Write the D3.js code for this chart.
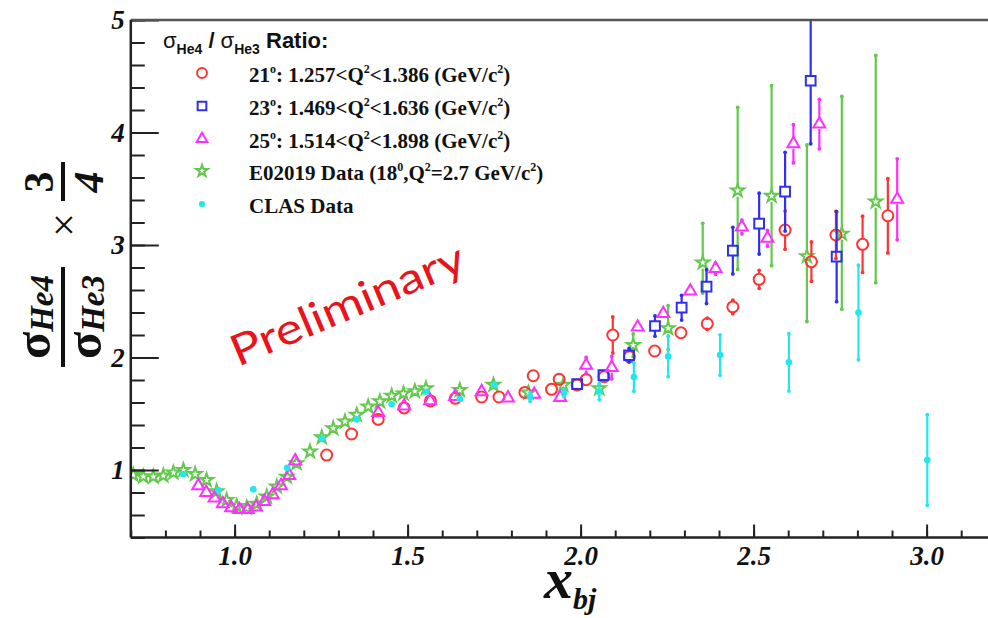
<!DOCTYPE html>
<html>
<head>
<meta charset="utf-8">
<script src="https://cdn.jsdelivr.net/npm/d3@7"></script>
<style>
body{margin:0;background:#fff;}
svg{display:block;}
</style>
</head>
<body>
<script>
//E02019 data (green stars), asymmetric errors
var greenX = [0.707,0.736,0.765,0.794,0.823,0.852,0.886,0.919,0.948,0.977,1.006,1.035,1.064,1.093,1.122,1.151,1.179,1.218,1.252,1.285,1.319,1.353,1.386,1.42,1.454,1.488,1.521,1.553,1.651,1.748,1.849,1.95,2.054,2.152,2.253,2.353,2.454,2.552,2.654,2.755,2.853];
var greenY = [0.956,0.941,0.941,0.95,0.976,1.0,0.964,0.91,0.81,0.733,0.68,0.665,0.698,0.763,0.852,0.94,1.06,1.163,1.29,1.37,1.43,1.49,1.563,1.61,1.66,1.68,1.70,1.726,1.71,1.756,1.687,1.756,1.726,2.11,2.26,2.843,3.483,3.436,2.90,3.10,3.385];
var greenErrUp   = [0,0,0,0,0,0,0,0,0,0,0,0,0,0,0,0,0,0,0,0,0,0,0,0,0,0,0,0,0,0,0,0,0.05,0.1,0.2,0.35,0.74,0.98,0.99,1.22,1.30];
var greenErrDown = [0,0,0,0,0,0,0,0,0,0,0,0,0,0,0,0,0,0,0,0,0,0,0,0,0,0,0,0,0,0,0,0,0.05,0.1,0.19,0.27,0.70,0.62,0.58,0.67,0.72];

//21 deg (red circles)
var redX = [1.266,1.338,1.415,1.49,1.566,1.638,1.714,1.764,1.839,1.863,1.916,1.938,1.99,2.016,2.068,2.093,2.141,2.214,2.29,2.366,2.44,2.516,2.591,2.667,2.738,2.815,2.888];
var redY = [1.133,1.32,1.45,1.552,1.614,1.637,1.649,1.649,1.69,1.838,1.717,1.806,1.756,1.803,1.83,2.2,2.007,2.058,2.22,2.30,2.45,2.695,3.133,2.852,3.089,3.006,3.26];
var redErr = [0.01,0.01,0.01,0.01,0.01,0.01,0.01,0.01,0.01,0.02,0.02,0.02,0.02,0.02,0.02,0.16,0.03,0.03,0.03,0.05,0.06,0.08,0.17,0.175,0.21,0.25,0.33];

//23 deg (blue squares)
var blueX = [1.99,2.066,2.14,2.215,2.292,2.364,2.44,2.516,2.591,2.665,2.74];
var blueY = [1.764,1.844,2.02,2.28,2.443,2.63,2.95,3.19,3.474,4.46,2.896];
var blueErr = [0.03,0.04,0.06,0.09,0.11,0.15,0.207,0.27,0.35,0.56,0.4];

//25 deg (magenta triangles)
var magX = [0.895,0.918,0.942,0.966,0.99,1.014,1.038,1.062,1.086,1.11,1.134,1.158,1.175,1.415,1.49,1.565,1.637,1.714,1.79,1.866,1.941,2.016,2.09,2.165,2.239,2.317,2.39,2.466,2.54,2.615,2.69,2.915];
var magY = [0.86,0.80,0.75,0.70,0.665,0.648,0.648,0.67,0.72,0.78,0.86,0.95,1.08,1.51,1.569,1.616,1.652,1.696,1.64,1.672,1.645,1.93,1.91,2.27,2.39,2.59,2.79,3.16,3.06,3.90,4.075,3.406];
var magErr = [0,0,0,0,0,0,0,0,0,0,0,0,0,0.01,0.01,0.01,0.01,0.01,0.01,0.02,0.02,0.07,0.1,0.03,0.04,0.04,0.05,0.06,0.07,0.17,0.22,0.36];

//CLAS data (cyan dots)
var clasX = [0.852,0.953,1.054,1.152,1.252,1.353,1.454,1.553,1.651,1.751,1.854,1.952,2.054,2.154,2.253,2.403,2.602,2.803,3.002];
var clasY = [0.962,0.822,0.828,1.02,1.28,1.45,1.584,1.696,1.632,1.756,1.65,1.684,1.696,1.826,2.01,2.022,1.957,2.40,1.089];
var clasErr = [0,0,0,0,0,0,0,0,0,0,0.04,0.03,0.07,0.125,0.18,0.18,0.255,0.42,0.403];

//axis ticks
var xMajor = [1.0,1.5,2.0,2.5,3.0];
var xMinor = d3.range(7,33).map(function(d){ return d/10; });
var yMajor = [1,2,3,4,5];
var yMinor = d3.range(2,26).map(function(d){ return d/5; });

//legend labels: [text, "sup" or ""], in legend order
var legendLabels = [
	[["21",""],["o","sup"],[": 1.257<Q",""],["2","sup"],["<1.386 (GeV/c",""],["2","sup"],[")",""]],
	[["23",""],["o","sup"],[": 1.469<Q",""],["2","sup"],["<1.636 (GeV/c",""],["2","sup"],[")",""]],
	[["25",""],["o","sup"],[": 1.514<Q",""],["2","sup"],["<1.898 (GeV/c",""],["2","sup"],[")",""]],
	[["E02019 Data (18",""],["0","sup"],[",Q",""],["2","sup"],["=2.7 GeV/c",""],["2","sup"],[")",""]],
	[["CLAS Data",""]]
];

var width = 988, height = 618;

var svg = d3.select("body")
	.append("svg")
	.attr("width", width)
	.attr("height", height);

var x = d3.scaleLinear().domain([0.7, 3.2]).range([130.8, 995.8]);
var y = d3.scaleLinear().domain([0.4, 5]).range([537.5, 20]);

var serif = "'Liberation Serif', 'Times New Roman', serif";
var sans = "'Liberation Sans', Arial, sans-serif";

svg.append("clipPath").attr("id", "plotclip")
	.append("rect")
	.attr("x", x(0.7)).attr("y", y(5))
	.attr("width", width - x(0.7)).attr("height", y(0.4) - y(5));

//series config (draw order)
var green = {xs: greenX, ys: greenY, up: greenErrUp, down: greenErrDown, color: "#62c94c", symbol: d3.symbolStar, size: 52, half: 6, fill: false};
var red = {xs: redX, ys: redY, up: redErr, down: redErr, color: "#ff3333", symbol: d3.symbolCircle, size: 95, half: 5.5, fill: false};
var blue = {xs: blueX, ys: blueY, up: blueErr, down: blueErr, color: "#2f2ff0", symbol: d3.symbolSquare, size: 95, half: 5, fill: false};
var mag = {xs: magX, ys: magY, up: magErr, down: magErr, color: "#ff30ff", symbol: d3.symbolTriangle, size: 62, half: 5, fill: false};
var clas = {xs: clasX, ys: clasY, up: clasErr, down: clasErr, color: "#22e8ee", symbol: d3.symbolCircle, size: 34, half: 0, fill: true};
var series = [green, red, blue, mag, clas];
var legendSeries = [red, blue, mag, green, clas];

var plot = svg.append("g").attr("clip-path", "url(#plotclip)");

series.forEach(function(s){
	var pts = s.xs.map(function(v, i){
		return {x: v, y: s.ys[i], up: s.up[i], down: s.down[i]};
	});
	var g = plot.append("g");

	//error bars, split around the marker
	pts.filter(function(d){ return d.up > 0 || d.down > 0; }).forEach(function(d){
		var cx = x(d.x), cy = y(d.y);
		var top = y(d.y + d.up), bot = y(d.y - d.down);
		if (cy - s.half > top) {
			g.append("line").attr("x1", cx).attr("x2", cx)
				.attr("y1", top).attr("y2", cy - s.half)
				.attr("stroke", s.color).attr("stroke-width", 2.2);
			g.append("circle").attr("cx", cx).attr("cy", top).attr("r", 1.9).attr("fill", s.color);
		}
		if (bot > cy + s.half) {
			g.append("line").attr("x1", cx).attr("x2", cx)
				.attr("y1", cy + s.half).attr("y2", bot)
				.attr("stroke", s.color).attr("stroke-width", 2.2);
			g.append("circle").attr("cx", cx).attr("cy", bot).attr("r", 1.9).attr("fill", s.color);
		}
	});

	g.selectAll(".mark")
		.data(pts)
		.enter()
		.append("path")
		.attr("class", "mark")
		.attr("transform", function(d){ return "translate(" + x(d.x) + "," + y(d.y) + ")"; })
		.attr("d", d3.symbol().type(s.symbol).size(s.size))
		.attr("fill", s.fill ? s.color : "none")
		.attr("stroke", s.fill ? "none" : s.color)
		.attr("stroke-width", 2);
});

//axes
var xAxis = svg.append("g")
	.attr("transform", "translate(0," + y(0.4) + ")")
	.call(d3.axisBottom(x).tickValues(xMajor).tickSizeInner(-13).tickSizeOuter(0).tickPadding(8).tickFormat(d3.format(".1f")));
var xAxisMinor = svg.append("g")
	.attr("transform", "translate(0," + y(0.4) + ")")
	.call(d3.axisBottom(x).tickValues(xMinor).tickSizeInner(-7).tickSizeOuter(0).tickFormat(""));
var yAxis = svg.append("g")
	.attr("transform", "translate(" + x(0.7) + ",0)")
	.call(d3.axisLeft(y).tickValues(yMajor).tickSizeInner(-28).tickSizeOuter(0).tickPadding(6).tickFormat(d3.format("d")));
var yAxisMinor = svg.append("g")
	.attr("transform", "translate(" + x(0.7) + ",0)")
	.call(d3.axisLeft(y).tickValues(yMinor).tickSizeInner(-14).tickSizeOuter(0).tickFormat(""));

[xAxis, xAxisMinor, yAxis, yAxisMinor].forEach(function(a){
	a.select(".domain").remove();
	a.selectAll(".tick line").attr("stroke", "#222").attr("stroke-width", 2);
	a.selectAll(".tick text")
		.attr("font-family", serif)
		.attr("font-weight", "bold")
		.attr("font-style", "italic")
		.attr("font-size", 27)
		.attr("fill", "#111");
});

//frame
svg.append("line").attr("x1", x(0.7)).attr("x2", width).attr("y1", y(5)).attr("y2", y(5))
	.attr("stroke", "#555").attr("stroke-width", 2.5);
svg.append("line").attr("x1", x(0.7)).attr("x2", width).attr("y1", y(0.4)).attr("y2", y(0.4))
	.attr("stroke", "#222").attr("stroke-width", 2.5);
svg.append("line").attr("x1", x(0.7)).attr("x2", x(0.7)).attr("y1", y(5)).attr("y2", y(0.4))
	.attr("stroke", "#222").attr("stroke-width", 2.5);

//x title
var xt = svg.append("text")
	.attr("x", 544).attr("y", 598)
	.attr("font-family", serif).attr("font-weight", "bold").attr("font-style", "italic")
	.attr("fill", "#111");
xt.append("tspan").attr("font-size", 58).text("x");
xt.append("tspan").attr("font-size", 30).attr("dy", 11).text("bj");

//y title (rotated fraction)
var yt = svg.append("g").attr("transform", "translate(63,317) rotate(-90)")
	.attr("font-family", serif).attr("font-weight", "bold").attr("fill", "#111");
var num = yt.append("text").attr("x", 0).attr("y", -13).attr("text-anchor", "middle");
num.append("tspan").attr("font-size", 50).text("σ");
num.append("tspan").attr("font-size", 33).attr("font-style", "italic").attr("dy", 3).text("He4");
var den = yt.append("text").attr("x", 0).attr("y", 38).attr("text-anchor", "middle");
den.append("tspan").attr("font-size", 50).text("σ");
den.append("tspan").attr("font-size", 33).attr("font-style", "italic").attr("dy", 3).text("He3");
yt.append("line").attr("x1", -50).attr("x2", 50).attr("y1", 0).attr("y2", 0)
	.attr("stroke", "#111").attr("stroke-width", 4);
yt.append("text").attr("x", 92).attr("y", 0).attr("dy", "0.35em")
	.attr("text-anchor", "middle").attr("font-weight", "normal").attr("font-size", 42).text("×");
yt.append("text").attr("x", 135).attr("y", -10).attr("text-anchor", "middle")
	.attr("font-size", 42).text("3");
yt.append("text").attr("x", 135).attr("y", 40).attr("text-anchor", "middle")
	.attr("font-size", 42).attr("font-style", "italic").text("4");
yt.append("line").attr("x1", 116).attr("x2", 155).attr("y1", 0).attr("y2", 0)
	.attr("stroke", "#111").attr("stroke-width", 4);

//legend title
var lt = svg.append("text").attr("x", 163).attr("y", 48)
	.attr("font-family", sans).attr("font-size", 22).attr("fill", "#111");
lt.append("tspan").text("σ");
lt.append("tspan").attr("font-size", 14).attr("font-weight", "bold").attr("dy", 6).text("He4");
lt.append("tspan").attr("dy", -6).attr("font-weight", "bold").text(" / ");
lt.append("tspan").text("σ");
lt.append("tspan").attr("font-size", 14).attr("font-weight", "bold").attr("dy", 6).text("He3");
lt.append("tspan").attr("dy", -6).attr("font-weight", "bold").text(" Ratio:");

//legend entries
var legendY = [73, 106, 139, 171, 204];
legendSeries.forEach(function(s, i){
	var ly = legendY[i];
	svg.append("path")
		.attr("transform", "translate(202," + ly + ")")
		.attr("d", d3.symbol().type(s.symbol).size(s.fill ? 30 : s.size * 0.8))
		.attr("fill", s.fill ? s.color : "none")
		.attr("stroke", s.fill ? "none" : s.color)
		.attr("stroke-width", 2);
	var t = svg.append("text").attr("x", 249).attr("y", ly + 9)
		.attr("font-family", serif).attr("font-weight", "bold").attr("font-size", 21).attr("fill", "#111");
	var shift = 0;
	legendLabels[i].forEach(function(p){
		if (p[1] === "sup") {
			t.append("tspan").attr("font-size", 12).attr("dy", -9 - shift).text(p[0]);
			shift = -9;
		} else {
			t.append("tspan").attr("dy", -shift).text(p[0]);
			shift = 0;
		}
	});
});

//watermark
svg.append("text")
	.attr("transform", "translate(238,367) rotate(-22.9)")
	.attr("font-family", "Lato, 'Open Sans', sans-serif")
	.attr("font-size", 43)
	.attr("textLength", 250)
	.attr("lengthAdjust", "spacingAndGlyphs")
	.attr("fill", "#e8141c")
	.text("Preliminary");
</script>
</body>
</html>
